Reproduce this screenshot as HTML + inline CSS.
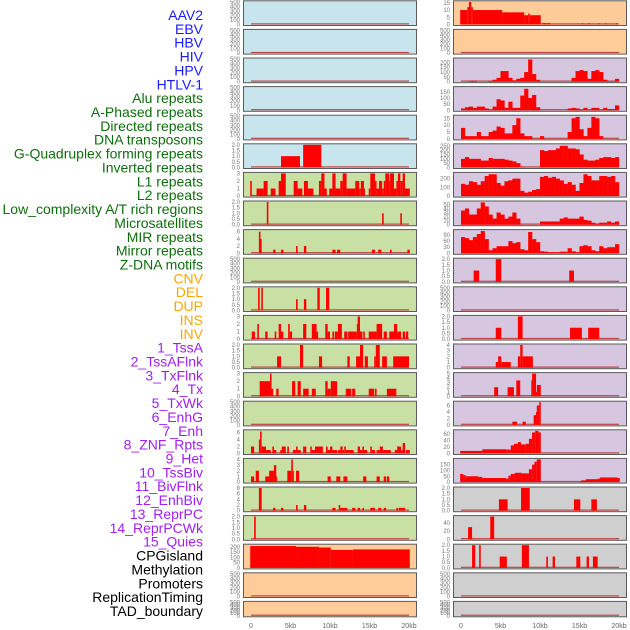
<!DOCTYPE html>
<html><head><meta charset="utf-8">
<style>
html,body{margin:0;padding:0;background:#fff;}
svg{display:block;}
.lab{font-family:"Liberation Sans",sans-serif;font-size:14px;}
.tk{font-family:"Liberation Sans",sans-serif;font-size:6px;fill:#777;}
.xt{font-family:"Liberation Sans",sans-serif;font-size:7px;fill:#666;}
</style></head>
<body>
<svg id="chart" width="630" height="630" viewBox="0 0 630 630"></svg>
<script>
const labelNames = ["AAV2","EBV","HBV","HIV","HPV","HTLV-1","Alu repeats","A-Phased repeats","Directed repeats","DNA transposons","G-Quadruplex forming repeats","Inverted repeats","L1 repeats","L2 repeats","Low_complexity A/T rich regions","Microsatellites","MIR repeats","Mirror repeats","Z-DNA motifs","CNV","DEL","DUP","INS","INV","1_TssA","2_TssAFlnk","3_TxFlnk","4_Tx","5_TxWk","6_EnhG","7_Enh","8_ZNF_Rpts","9_Het","10_TssBiv","11_BivFlnk","12_EnhBiv","13_ReprPC","14_ReprPCWk","15_Quies","CPGisland","Methylation","Promoters","ReplicationTiming","TAD_boundary"];
const labelColors = ["#1a1aff","#1a1aff","#1a1aff","#1a1aff","#1a1aff","#1a1aff","#0e6e0e","#0e6e0e","#0e6e0e","#0e6e0e","#0e6e0e","#0e6e0e","#0e6e0e","#0e6e0e","#0e6e0e","#0e6e0e","#0e6e0e","#0e6e0e","#0e6e0e","#ffa500","#ffa500","#ffa500","#ffa500","#ffa500","#a020f0","#a020f0","#a020f0","#a020f0","#a020f0","#a020f0","#a020f0","#a020f0","#a020f0","#a020f0","#a020f0","#a020f0","#a020f0","#a020f0","#a020f0","#000","#000","#000","#000","#000"];
const xTicks = [0,5,10,15,20];
const xTickLabels = ["0","5kb","10kb","15kb","20kb"];

// segment data: [startKb, endKb, value]
const segG4 = [[3.8,6.2,1],[6.6,8.9,2]];
const segAlu = [[-0.1,0.1,2],[0.7,1.6,1],[1.6,2.1,2],[2.5,3.1,1],[3.5,3.8,2],[3.8,4.4,3],[5.4,5.9,2],[5.9,6.5,1],[6.7,7.2,2],[7.2,7.9,1],[8.6,8.9,2],[8.9,9.3,3],[9.3,9.6,1],[9.9,10.3,1],[10.3,10.7,3],[10.7,11.3,1],[11.3,11.6,2],[11.6,12.1,3],[12.1,13.2,1],[13.2,13.7,2],[13.7,13.9,1],[13.9,14.3,2],[14.3,14.4,1],[14.9,15.1,1],[15.1,15.7,3],[15.7,15.9,2],[15.9,16.2,1],[16.2,16.6,2],[16.6,16.8,1],[16.8,17.0,2],[17.0,17.5,3],[17.5,17.6,2],[17.6,18.1,3],[18.1,18.4,1],[18.4,18.6,2],[18.6,18.9,3],[18.9,19.2,2],[19.2,19.5,3],[19.5,20.1,1]];
const segAPhased = [[2.0,2.2,2],[16.6,16.8,1],[18.9,19.1,1]];
const segDirected = [[1.0,1.2,6],[1.2,1.35,4],[2.8,3.1,1],[3.8,4.1,1],[5.7,5.9,2],[6.7,7.0,2],[10.3,10.7,1],[10.9,11.3,1],[15.3,15.7,1],[16.1,16.5,1],[17.6,17.8,1],[19.8,20.1,1]];
const segInverted = [[0.9,1.1,2],[1.3,1.5,2],[5.7,5.9,1],[6.7,7.0,1],[8.4,8.7,2],[9.5,9.9,2]];
const segL1 = [[0.1,0.5,1],[0.8,1.0,2],[1.8,2.1,1],[3.0,3.2,1],[3.5,3.8,2],[3.8,4.1,1],[4.7,4.9,2],[4.9,5.2,1],[6.6,7.0,2],[7.7,8.3,2],[8.3,8.5,1],[9.4,9.7,2],[9.7,10.0,1],[10.3,10.5,1],[10.6,11.0,1],[11.0,11.5,2],[11.8,12.2,1],[12.3,13.4,1],[13.4,13.5,2],[13.5,13.8,3],[13.8,14.1,1],[14.2,14.4,1],[14.9,15.9,1],[15.9,16.6,2],[16.8,17.2,1],[17.5,18.1,1],[18.1,18.5,2],[18.5,19.0,1],[19.2,19.5,1],[19.6,19.9,1]];
const segL2 = [[3.3,3.8,1],[6.2,6.6,2],[8.6,9.0,1],[12.2,12.5,1],[13.3,13.8,1],[13.8,14.2,2],[14.4,14.8,1],[15.6,15.8,1],[15.8,16.3,2],[16.6,17.2,1],[18.0,20.0,1]];
const segLowCx = [[1.1,2.4,2],[2.4,2.6,3],[2.6,2.8,1],[3.2,3.5,1],[5.2,5.6,2],[5.9,6.3,2],[6.6,7.3,1],[7.7,8.2,1],[9.4,9.7,2],[9.7,10.1,1],[10.1,10.9,2],[12.0,12.7,1],[12.8,13.2,1],[14.9,15.6,1],[15.7,15.9,1],[17.2,18.4,1]];
const segMIR = [[0,0.4,2],[1.0,1.15,4],[1.15,1.35,6.3],[1.35,1.9,2],[1.9,2.5,1],[2.7,2.9,2],[2.9,3.2,1],[3.7,3.9,1],[3.9,4.4,2],[4.6,4.8,2],[5.3,5.7,1],[5.7,5.9,2],[5.9,6.3,1],[6.6,7.0,2],[7.5,7.7,2],[7.7,8.1,1],[8.1,9.1,2],[9.5,9.7,2],[9.7,10.0,1],[10.0,10.3,2],[10.3,10.9,1],[11.0,11.3,1],[11.3,11.6,2],[11.6,11.8,1],[11.8,12.0,2],[12.0,13.0,1],[13.5,13.8,2],[13.8,14.1,1],[14.1,14.3,2],[14.3,14.7,1],[15.1,15.3,2],[15.3,15.7,1],[15.9,16.3,1],[16.3,16.7,2],[16.7,17.7,1],[18.2,18.5,1],[18.5,19.0,2],[19.0,19.2,1],[19.2,19.5,3],[19.6,20.1,1]];
const segMirror = [[0,0.4,1],[0.6,1.0,2],[1.8,2.3,1],[2.3,2.9,2],[2.9,3.2,3],[3.2,3.3,1],[4.6,5.1,2],[5.1,5.3,4],[5.3,5.4,2],[5.7,6.1,2],[9.7,10.1,1],[10.8,11.3,1],[11.7,12.2,1],[14.2,14.6,1],[15.9,16.3,1],[16.8,17.1,1],[17.2,17.5,1]];
const segZDNA = [[1.0,1.35,8],[2.8,3.1,1],[3.8,4.1,1],[5.7,5.9,2],[6.7,7.0,2],[10.3,10.7,1],[11.1,11.3,2],[11.3,12.2,1],[12.8,13.2,1],[13.5,13.8,1],[14.1,14.3,1],[15.1,15.7,1],[16.1,16.5,1],[16.8,17.1,1],[18.4,18.6,1],[18.7,19.5,1]];
const segTmp = [[0.4,0.6,2]];
const segCpG = [[-0.1,5.7,207],[5.7,8.6,200],[8.6,10.1,193],[10.1,12.9,170],[12.9,20.1,175]];
const segRepTiming = [[-0.1,0.8,10],[0.8,1.0,12],[1.0,1.3,15.5],[1.3,1.5,12],[1.5,5.2,10],[5.2,8.0,8.4],[8.0,8.5,6.4],[8.5,8.7,7.5],[8.7,10.1,6.4],[10.3,10.8,1],[10.9,11.3,1],[15.3,15.4,1],[16.1,16.3,1],[17.4,17.5,1],[18.3,18.4,1],[19.6,19.7,1]];
const segZNF = [[1.6,2.3,1],[4.4,5.1,2],[13.7,14.3,1]];
const segTssBiv = [[4.4,5.1,1],[7.2,7.8,2],[13.8,15.3,1],[16.1,17.5,1]];
const segBivFlnk = [[4.4,4.7,1],[4.7,5.1,2],[5.1,6.3,1],[7.2,7.5,2],[7.5,7.8,4],[7.8,9.1,2]];
const segEnhBiv = [[4.2,4.7,2],[5.9,6.7,2],[7.0,7.5,3.5],[8.9,9.0,3.5],[9.0,9.5,5],[9.5,9.6,1],[9.6,10.1,2.5]];
const segReprPC = [[6.5,7.1,1],[7.8,8.2,1],[9.2,9.5,3],[9.5,9.6,4],[9.6,9.9,6],[9.9,10.1,7]];
const segReprPCWk = [[-0.1,2.7,8],[2.7,5.8,13],[5.8,6.3,12],[6.3,6.7,25],[6.7,7.2,30],[7.2,7.6,35],[7.6,8.2,28],[8.2,8.6,30],[8.6,9.0,45],[9.0,9.4,65],[9.4,9.8,70],[9.8,10.1,65]];
const segQuies = [[-0.1,0.3,70],[0.3,0.6,60],[0.6,2.2,50],[2.2,2.7,45],[2.7,5.7,35],[5.7,6.0,30],[6.0,6.3,55],[6.3,6.8,70],[6.8,7.7,80],[7.7,8.6,75],[8.6,9.0,110],[9.0,9.3,150],[9.3,9.6,175],[9.6,10.1,195],[14.9,15.2,5],[15.2,15.8,15],[15.8,17.3,25],[17.3,17.6,30],[17.6,19.8,40],[19.8,20.1,35]];
const segCNV = [[4.8,5.9,1],[7.6,8.7,2],[14.3,15.1,1],[16.5,17.2,1]];
const segDEL = [[0.9,1.4,30],[3.7,4.2,56]];
const segDUP = [[1.4,1.8,2],[2.3,2.5,2],[4.9,5.8,1],[7.7,8.6,2],[10.8,11.0,1],[11.6,11.9,1],[14.6,15.1,1],[15.9,16.2,1],[16.7,17.3,1]];

// binned profiles (0.5 kb bins, 0..20 kb)
const binTssA = [0,0,10,10,0,0,0,10,20,40,110,110,40,15,30,40,100,230,80,20,0,0,0,0,0,0,0,0,40,110,120,110,30,110,120,100,20,5,5,30];
const binTssAFlnk = [15,25,30,20,30,30,15,5,30,90,80,20,70,20,20,120,175,100,125,25,0,0,0,0,0,0,0,15,20,15,5,20,5,20,20,5,20,10,10,40];
const binTxFlnk = [8,2,2,2,5,2,2,5,6,9,8,4,4,10,15,4,2,2,0,0,2,0,0,0,0,0,0,5,15,16,7,2,8,16,15,2,0,0,0,0];
const binTx = [100,120,100,100,100,80,80,110,100,100,100,90,80,70,50,10,0,0,0,0,200,190,200,200,220,250,250,220,220,210,150,90,80,80,90,110,120,120,110,120];
const binTxWk = [140,130,170,160,130,170,230,250,250,150,120,170,180,200,200,60,40,50,70,80,220,230,210,220,200,180,140,160,130,60,150,250,230,180,180,230,230,220,230,160];
const binEnhG = [35,40,25,25,40,55,45,25,15,30,25,15,20,30,15,0,0,0,0,0,8,8,8,8,8,15,18,15,15,15,20,12,10,5,3,5,5,8,5,8];
const binEnh = [80,75,65,80,95,110,70,15,25,35,35,35,60,50,55,20,15,105,70,55,10,8,5,5,5,8,8,25,10,5,35,40,35,15,10,35,25,30,30,45];

const B="#c8e4ec",G="#c8e0a4",P="#ffcc99",U="#d6c6e0",Y="#cfcfcf";
const T500=[0,100,200,300,400,500], T2=[0,0.5,1,1.5,2], T3=[0,1,2,3];
// panels column-major: [col,row,name,bg,max,ticks,tickLabels,segData,binData]
const panels = [
 [0,0,"aav2",B,500,T500,null,null,null],[0,1,"ebv",B,500,T500,null,null,null],[0,2,"hbv",B,500,T500,null,null,null],
 [0,3,"hiv",B,500,T500,null,null,null],[0,4,"hpv",B,500,T500,null,null,null],[0,5,"htlv-1",B,2,T2,"f",segG4,null],
 [0,6,"alu-repeats",G,3,T3,null,segAlu,null],[0,7,"a-phased-repeats",G,2,T2,"f",segAPhased,null],
 [0,8,"directed-repeats",G,6.3,[0,2,4,6],null,segDirected,null],[0,9,"dna-transposons",G,500,T500,null,null,null],
 [0,10,"g-quadruplex",G,2,T2,"f",segInverted,null],[0,11,"inverted-repeats",G,3,T3,null,segL1,null],
 [0,12,"l1-repeats",G,2,T2,"f",segL2,null],[0,13,"l2-repeats",G,3,T3,null,segLowCx,null],
 [0,14,"low-complexity",G,500,T500,null,null,null],[0,15,"microsatellites",G,6.5,[0,2,4,6],null,segMIR,null],
 [0,16,"mir-repeats",G,4,[0,1,2,3,4],null,segMirror,null],[0,17,"mirror-repeats",G,8,[0,2,4,6,8],null,segZDNA,null],
 [0,18,"z-dna-motifs",G,2,T2,"f",segTmp,null],[0,19,"cpgisland",P,215,[0,50,100,150,200],null,segCpG,null],
 [0,20,"methylation",P,500,T500,null,null,null],[0,21,"promoters",P,500,T500,null,null,null],
 [1,0,"replication-timing",P,15.7,[0,5,10,15],null,segRepTiming,null],[1,1,"tad-boundary",P,500,T500,null,null,null],
 [1,2,"1-tssa",U,235,[0,50,100,150,200],null,null,binTssA],[1,3,"2-tssaflnk",U,185,[0,50,100,150],null,null,binTssAFlnk],
 [1,4,"3-txflnk",U,16.5,[0,5,10,15],null,null,binTxFlnk],[1,5,"4-tx",U,262,[0,50,100,150,200,250],null,null,binTx],
 [1,6,"5-txwk",U,260,[0,100,200],null,null,binTxWk],[1,7,"6-enhg",U,56,[0,10,20,30,40,50],null,null,binEnhG],
 [1,8,"7-enh",U,112,[0,30,60,90],null,null,binEnh],[1,9,"8-znf-rpts",U,2,T2,"f",segZNF,null],
 [1,10,"9-het",U,500,T500,null,null,null],[1,11,"10-tssbiv",U,2,T2,"f",segTssBiv,null],
 [1,12,"11-bivflnk",U,4,[0,1,2,3,4],null,segBivFlnk,null],[1,13,"12-enhbiv",U,5,[0,1,2,3,4,5],null,segEnhBiv,null],
 [1,14,"13-reprpc",U,7,[0,2,4,6],null,segReprPC,null],[1,15,"14-reprpcwk",U,70,[0,20,40,60],null,segReprPCWk,null],
 [1,16,"15-quies",U,195,[0,50,100,150],null,segQuies,null],[1,17,"cnv",Y,2,T2,"f",segCNV,null],
 [1,18,"del",Y,56,[0,20,40],null,segDEL,null],[1,19,"dup",Y,2,T2,"f",segDUP,null],
 [1,20,"ins",Y,500,T500,null,null,null],[1,21,"inv",Y,500,T500,null,null,null]
];

const NS="http://www.w3.org/2000/svg";
const svg=document.getElementById("chart");
function mk(tag,attrs,parent){const e=document.createElementNS(NS,tag);for(const k in attrs)e.setAttribute(k,attrs[k]);(parent||svg).appendChild(e);return e;}

// labels
labelNames.forEach((n,i)=>{
  const t=mk("text",{x:203,y:20+i*13.86,"text-anchor":"end",fill:labelColors[i],class:"lab"});
  
  
  t.textContent=n;
});

const colX=[243,453], PW=173;
function xScale(col,kb){return colX[col]+8+kb*7.9;}
panels.forEach(p=>{
  const [col,row,name,bg,max,ticks,fmt,seg,bins]=p;
  const top=row*28.6+0.3, h=row===21?15.4:24.7;
  const g=mk("g",{});
  
  
  const r=mk("rect",{x:colX[col]+0.5,y:top+0.5,width:PW,height:h,fill:bg,stroke:"#5a5a5a","stroke-width":1},g);
  
  
  const y0=top+h-0.5, y1=top+1.5;
  const yScale=v=>y0-(v/max)*(y0-y1);
  ticks.forEach(v=>{
    const t=mk("text",{x:colX[col]-3,y:yScale(v)+2,"text-anchor":"end",class:"tk"},g);
    
    
    t.textContent=fmt?v.toFixed(1):String(v);
  });
  const bl=mk("rect",{x:xScale(col,0),y:y0-1.2,width:xScale(col,20)-xScale(col,0),height:1.2,fill:"#c04444"},g);
  
  
  if(seg) seg.forEach(s=>{
    const x=xScale(col,s[0]), w=Math.max(1,xScale(col,s[1])-x), y=yScale(Math.min(s[2],max));
    const b=mk("rect",{x:x,y:y,width:w,height:y0-y,fill:"#ff0000"},g);
    
    
  });
  if(bins) bins.forEach((v,i)=>{
    if(v<=0) return;
    const x=xScale(col,i*0.5), w=xScale(col,(i+1)*0.5)-x, y=yScale(Math.min(v,max));
    const b=mk("rect",{x:x,y:y,width:w+0.2,height:y0-y,fill:"#ff0000"},g);
    
    
  });
});
[0,1].forEach(col=>{
  xTicks.forEach((v,i)=>{
    const t=mk("text",{x:xScale(col,v),y:628,"text-anchor":"middle",class:"xt"});
    
    
    t.textContent=xTickLabels[i];
  });
});
</script>
</body></html>
